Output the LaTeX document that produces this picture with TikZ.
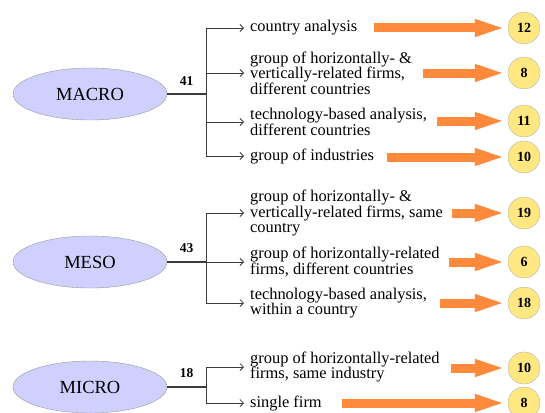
\documentclass[tikz,border=0pt]{standalone}
\usepackage{fontspec}
\setmainfont{Liberation Serif}
\usetikzlibrary{arrows.meta,shapes.geometric}
\definecolor{C0}{RGB}{208,208,255}
\definecolor{C1}{RGB}{255,232,130}
\definecolor{C2}{RGB}{255,138,60}
\definecolor{C3}{RGB}{60,60,60}

\tikzset{
  level/.style={ellipse,draw=gray!80,fill=C0,minimum width=154pt,minimum height=52pt,
    font=\fontsize{18.5}{20}\selectfont},
  item/.style={anchor=west,align=left,inner xsep=6pt,inner ysep=0pt,
    font=\fontsize{16.4}{15.5}\selectfont},
  count/.style={circle,draw=gray!60,fill=C1,minimum size=32pt,inner sep=0pt,
    font=\fontsize{14}{14}\selectfont\bfseries},
  stem/.style={draw=C3,line width=1.3pt},
  branch/.style={draw=C3,line width=0.8pt,-{Straight Barb[length=3.5pt,width=7pt]}},
  fat/.style={draw=C2,line width=9pt,-{Triangle[length=33pt,width=15pt]}},
  total/.style={above=5pt,font=\fontsize{13.5}{13.5}\selectfont\bfseries}
}

\begin{document}
\begin{tikzpicture}[x=1pt,y=-1pt]
  \useasboundingbox (0,0) rectangle (545,412);

  % MACRO level
  \node[level] (macro) at (90,94) {MACRO};
  \coordinate (jmacro) at (206,94);
  \draw[stem] (macro.east) -- node[total] {41} (jmacro);

  \node[item] (ma1) at (244,28) {country analysis};
  \node[item] (ma2) at (244,73) {group of horizontally- \&\\vertically-related firms,\\different countries};
  \node[item] (ma3) at (244,122) {technology-based analysis,\\different countries};
  \node[item] (ma4) at (244,156) {group of industries};
  \foreach \i in {1,...,4} \draw[branch] (jmacro) |- (ma\i.west);

  \node[count] (na1) at (524,28) {12};
  \node[count] (na2) at (524,73) {8};
  \node[count] (na3) at (524,121) {11};
  \node[count] (na4) at (524,157) {10};
  \coordinate (sa1) at (374,28);
  \coordinate (sa2) at (423,73);
  \coordinate (sa3) at (437,121);
  \coordinate (sa4) at (387,157);
  \foreach \i in {1,...,4} \draw[fat] (sa\i) -- (na\i.west);

  % MESO level
  \node[level] (meso) at (90,262) {MESO};
  \coordinate (jmeso) at (206,262);
  \draw[stem] (meso.east) -- node[total] {43} (jmeso);

  \node[item] (me1) at (244,213) {group of horizontally- \&\\vertically-related firms, same\\country};
  \node[item] (me2) at (244,262) {group of horizontally-related\\firms, different countries};
  \node[item] (me3) at (244,303) {technology-based analysis,\\within a country};
  \foreach \i in {1,...,3} \draw[branch] (jmeso) |- (me\i.west);

  \node[count] (ne1) at (524,213) {19};
  \node[count] (ne2) at (524,262) {6};
  \node[count] (ne3) at (524,303) {18};
  \coordinate (se1) at (452,213);
  \coordinate (se2) at (449,262);
  \coordinate (se3) at (440,303);
  \foreach \i in {1,...,3} \draw[fat] (se\i) -- (ne\i.west);

  % MICRO level
  \node[level] (micro) at (90,387) {MICRO};
  \coordinate (jmicro) at (206,387);
  \draw[stem] (micro.east) -- node[total] {18} (jmicro);

  \node[item] (mi1) at (244,367) {group of horizontally-related\\firms, same industry};
  \node[item] (mi2) at (244,403) {single firm};
  \foreach \i in {1,2} \draw[branch] (jmicro) |- (mi\i.west);

  \node[count] (ni1) at (524,368) {10};
  \node[count] (ni2) at (524,403) {8};
  \coordinate (si1) at (451,368);
  \coordinate (si2) at (342,403);
  \foreach \i in {1,2} \draw[fat] (si\i) -- (ni\i.west);

\end{tikzpicture}
\end{document}
